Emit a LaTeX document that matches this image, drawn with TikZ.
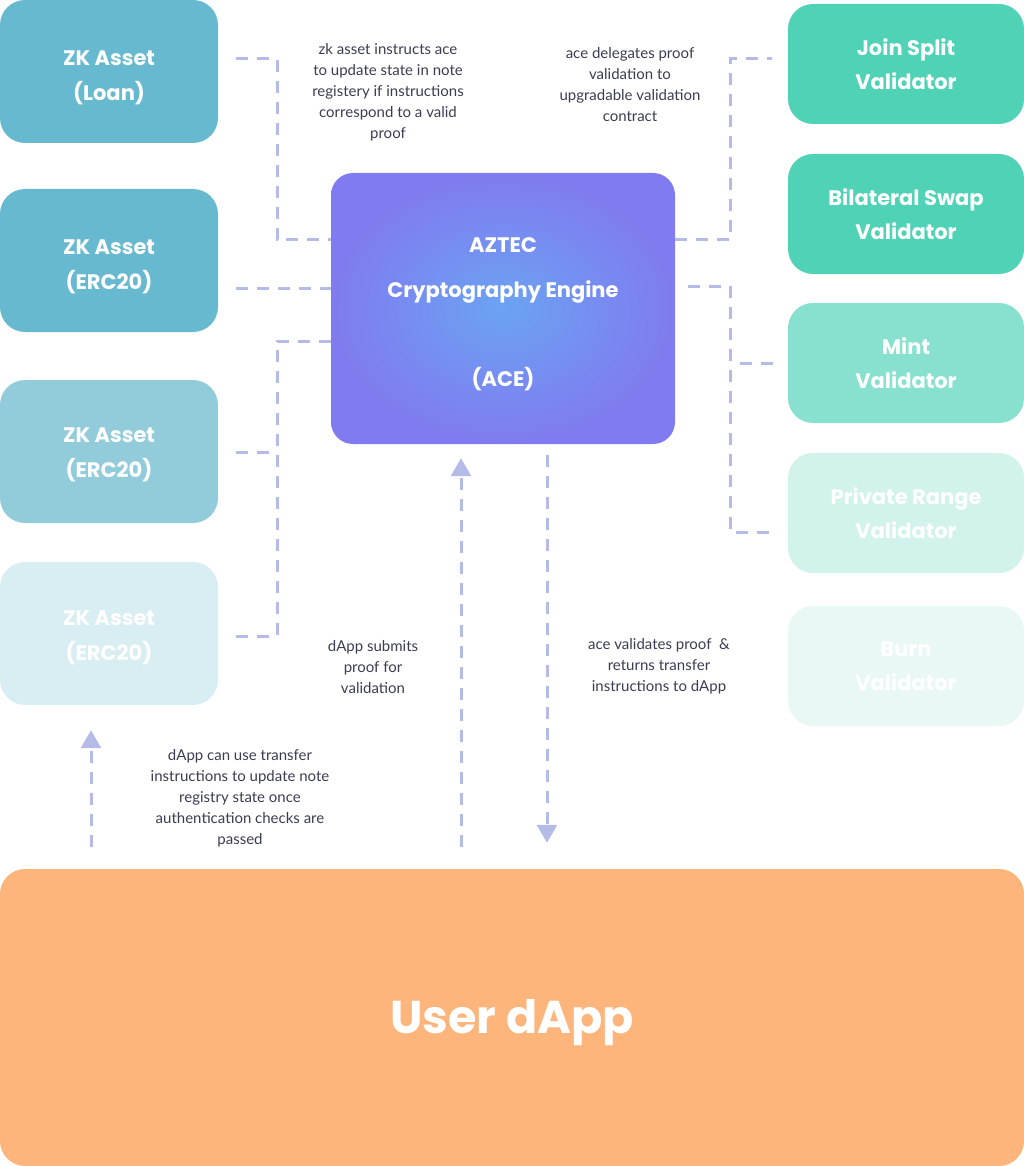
\documentclass[tikz,border=0pt]{standalone}
\usepackage{fontspec}
\setmainfont{Lato}
\newfontfamily\boxfont{Poppins}
\usetikzlibrary{arrows.meta,calc}
\newcommand\myup[1]{\rule{0pt}{#1}}
\definecolor{zkA}{HTML}{67B9CF}
\definecolor{zkB}{HTML}{92CCDB}
\definecolor{zkC}{HTML}{D9EEF3}
\definecolor{valA}{HTML}{50D2B6}
\definecolor{valB}{HTML}{87E1CE}
\definecolor{valC}{HTML}{D1F3EC}
\definecolor{valD}{HTML}{EAF8F5}
\definecolor{dapp}{HTML}{FDB57B}
\definecolor{aceout}{HTML}{807BF0}
\definecolor{acein}{HTML}{6BA3F2}
\definecolor{dashc}{HTML}{B5BBE7}
\definecolor{notec}{HTML}{3A3D52}
\tikzset{
  zkbox/.style={rounded corners=25pt, minimum width=218pt, minimum height=143pt, inner sep=0pt,
    text=white, font=\boxfont\bfseries\fontsize{21}{35}\selectfont, align=center},
  valbox/.style={rounded corners=25pt, minimum width=236pt, minimum height=120pt, inner sep=0pt,
    text=white, font=\boxfont\bfseries\fontsize{21}{34}\selectfont, align=center},
  dl/.style={draw=dashc, line width=3pt, dash pattern=on 12pt off 9pt},
  dla/.style={dl, -{Triangle[width=20pt,length=18pt]}},
  note/.style={text=notec, font=\fontsize{15}{21}\selectfont, align=center, inner sep=0pt}
}
\begin{document}
\begin{tikzpicture}[x=1pt,y=-1pt]
\useasboundingbox (0,0) rectangle (1024,1166);
% left assets
\node[zkbox, fill=zkA] (loan) at (109,71.5) {\myup{28pt}ZK Asset\\(Loan)};
\node[zkbox, fill=zkA] (erca) at (109,260.5) {\myup{28pt}ZK Asset\\(ERC20)};
\node[zkbox, fill=zkB] (ercb) at (109,451.5) {\myup{22pt}ZK Asset\\(ERC20)};
\node[zkbox, fill=zkC] (ercc) at (109,633.5) {\myup{24pt}ZK Asset\\(ERC20)};
% ACE
\node[rounded corners=22pt, minimum width=344pt, minimum height=271pt, inner sep=0pt,
  inner color=acein, outer color=aceout, text=white, align=center,
  font=\boxfont\bfseries\fontsize{21}{26}\selectfont] (ace) at (503,308.5)
  {\myup{27pt}AZTEC\\[19pt]Cryptography Engine\\[63pt](ACE)};
% validators
\node[valbox, fill=valA] (join) at (906,64) {Join Split\\Validator};
\node[valbox, fill=valA] (bil) at (906,214) {Bilateral Swap\\Validator};
\node[valbox, fill=valB] (mint) at (906,363) {Mint\\Validator};
\node[valbox, fill=valC] (range) at (906,513) {Private Range\\Validator};
\node[valbox, fill=valD] (burn) at (906,666) {Burn\\Validator};
% dApp
\node[rounded corners=25pt, minimum width=1024pt, minimum height=297pt, inner sep=0pt,
  fill=dapp, text=white, font=\boxfont\bfseries\fontsize{46}{56}\selectfont] (user) at (512,1017.5) {\myup{44pt}User dApp};
% notes
\node[note] (n1) at (388,92) {zk asset instructs ace\\to update state in note\\registery if instructions\\correspond to a valid\\proof};
\node[note] (n2) at (630,84.5) {ace delegates proof\\validation to\\upgradable validation\\contract};
\node[note] (n3) at (373,667) {dApp submits\\proof for\\validation};
\node[note] (n4) at (659,666) {ace validates proof~~\&\\returns transfer\\instructions to dApp};
\node[note] (n5) at (240,798) {dApp can use transfer\\instructions to update note\\registry state once\\authentication checks are\\passed};
% left connectors
\draw[dl] (loan.east |- 0,59) ++(18,0) -| (277,240) -- (ace.west |- 0,240);
\draw[dl] (erca.east |- 0,288) ++(18,0) -- (ace.west |- 0,288);
\draw[dl] (ace.west |- 0,341) -| (277,636) -- ($(ercc.east |- 0,636)+(18,0)$);
\draw[dl] (ercb.east |- 0,452) ++(18,0) -- (277,452);
% right connectors
\draw[dl] (ace.east |- 0,240) -| (730,59) -- ($(join.west |- 0,59)+(-16,0)$);
\draw[dl] (ace.east |- 0,286) ++(13,0) -| (730,532) -- ($(range.west |- 0,532)+(-16,0)$);
\draw[dl] (740,363) -- ($(mint.west |- 0,363)+(-13,0)$);
% arrows
\draw[dla] (user.north -| 461,0) ++(0,-22) -- ($(ace.south -| 461,0)+(0,14)$);
\draw[dla] (ace.south -| 547,0) ++(0,11) -- ($(user.north -| 547,0)+(0,-26)$);
\draw[dla] (user.north -| 91,0) ++(0,-22) -- ($(ercc.south -| 91,0)+(0,25)$);
\end{tikzpicture}
\end{document}
